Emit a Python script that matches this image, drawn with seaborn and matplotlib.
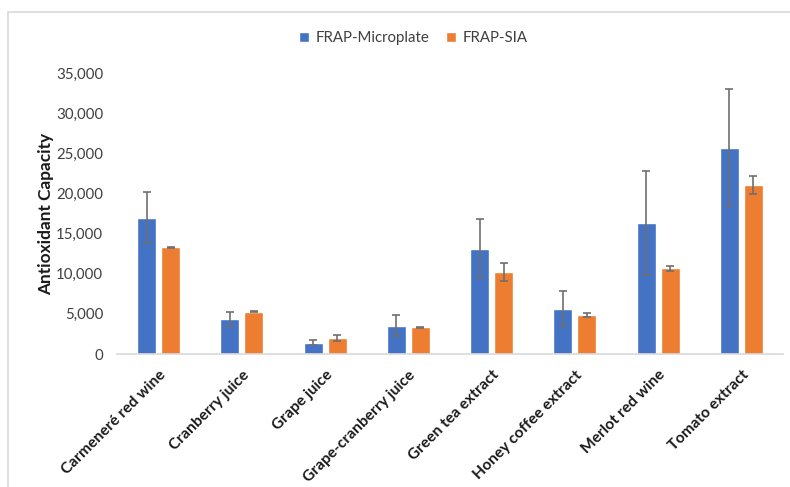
import numpy as np
import pandas as pd
import matplotlib
matplotlib.use("Agg")
import matplotlib.pyplot as plt
import seaborn as sns
from matplotlib.ticker import FuncFormatter
from matplotlib.patches import Rectangle

samples = ["Carmeneré red wine", "Cranberry juice", "Grape juice",
           "Grape-cranberry juice", "Green tea extract", "Honey coffee extract",
           "Merlot red wine", "Tomato extract"]
methods = ["FRAP-Microplate", "FRAP-SIA"]
microplate_mean = [17000, 4350, 1400, 3520, 13140, 5640, 16290, 25700]
microplate_sd = [3200, 900, 300, 1300, 3700, 2200, 6450, 7300]
sia_mean = [13270, 5260, 1990, 3320, 10240, 4850, 10660, 21020]
sia_sd = [80, 60, 380, 90, 1150, 300, 280, 1150]
y_ticks = [0, 5000, 10000, 15000, 20000, 25000, 30000, 35000]

colors = {"FRAP-Microplate": "#4472C4", "FRAP-SIA": "#ED7D31"}

df = pd.DataFrame({
    "Sample": samples * 2,
    "Method": [methods[0]] * len(samples) + [methods[1]] * len(samples),
    "Value": microplate_mean + sia_mean,
    "SD": microplate_sd + sia_sd,
})

sns.set_theme(style="white")
plt.rcParams["font.family"] = ["Lato", "DejaVu Sans"]

fig = plt.figure(figsize=(7.9, 4.87), dpi=100)
W, H = 790, 487
ax = fig.add_axes([117 / W, 1 - 354 / H, (783 - 117) / W, (354 - 73) / H])

sns.barplot(data=df, x="Sample", y="Value", hue="Method", order=samples,
            hue_order=methods, palette=colors, width=0.576, gap=0.2,
            errorbar=None, saturation=1, ax=ax)

# error bars placed on the centres of the drawn bars
for method, container in zip(methods, ax.containers):
    sub = df[df["Method"] == method].set_index("Sample").loc[samples]
    xs = [p.get_x() + p.get_width() / 2 for p in container.patches]
    ax.errorbar(xs, sub["Value"], yerr=sub["SD"], fmt="none",
                ecolor="#6f6f6f", elinewidth=1.2, capsize=3, capthick=1.2,
                zorder=5)

ax.set_ylim(0, 35000)
ax.set_xlim(-0.5, len(samples) - 0.5)
ax.set_yticks(y_ticks)
ax.yaxis.set_major_formatter(FuncFormatter(lambda v, p: f"{int(v):,}"))
ax.tick_params(axis="y", labelsize=10.8, labelcolor="#404040", length=0, pad=10)
ax.tick_params(axis="x", length=0, pad=10)
ax.set_xticks(range(len(samples)))
ax.set_xticklabels(samples, rotation=45, ha="right", va="top",
                   rotation_mode="anchor", fontsize=11.2, fontweight="bold",
                   color="#1a1a1a")
ax.set_xlabel("")
ax.set_ylabel("Antioxidant Capacity", fontsize=12.4, fontweight="bold",
              color="#1a1a1a", labelpad=1)

for s in ["top", "right", "left"]:
    ax.spines[s].set_visible(False)
ax.spines["bottom"].set_color("#d9d9d9")
ax.spines["bottom"].set_linewidth(1.2)
ax.grid(False)

handles, labels = ax.get_legend_handles_labels()
ax.legend(handles, labels, loc="center", bbox_to_anchor=(413 / W, 1 - 38 / H),
          bbox_transform=fig.transFigure, ncol=2, frameon=False,
          fontsize=10.8, handlelength=0.7, handleheight=0.7,
          handletextpad=0.4, columnspacing=1.1, labelcolor="#404040")

# chart-area border
fig.patches.append(Rectangle((8 / W, -0.1), 1.2, 1 - 12 / H + 0.1,
                             transform=fig.transFigure, fill=False,
                             edgecolor="#d9d9d9", linewidth=1.2))

fig.savefig("out.png", dpi=100)
